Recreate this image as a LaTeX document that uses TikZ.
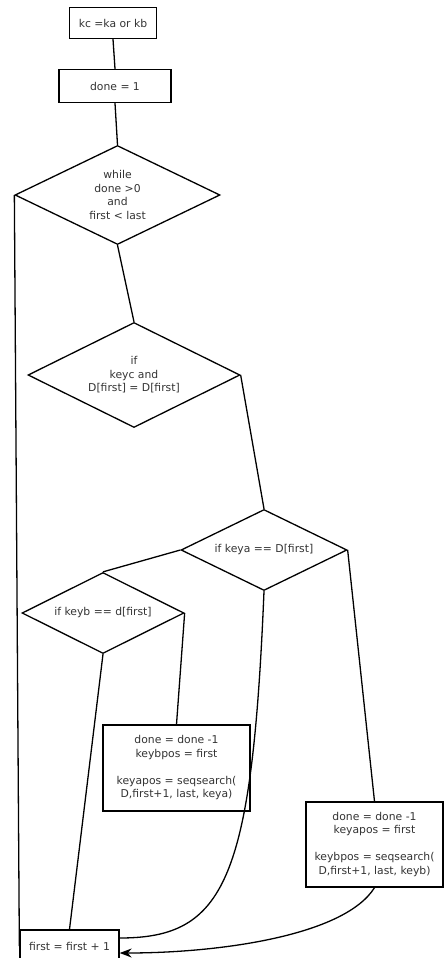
\documentclass[tikz,border=0pt]{standalone}
\usepackage{fontspec}
\setmainfont{DejaVu Sans}
\usetikzlibrary{positioning, arrows.meta, shapes.geometric}

\begin{document}
\begin{tikzpicture}[
    x=1pt, y=-1pt,
    font=\fontsize{10.8}{13.5}\selectfont,
    block/.style={rectangle, draw, line width=1.3pt, inner sep=0pt,
    align=center, text=black!80},
    decision/.style={diamond, draw, line width=1.3pt, aspect=2,
    inner sep=0pt, align=center, text=black!80},
    line/.style={line width=1.3pt},
    arrow/.style={line width=1.3pt, -{Stealth[length=12pt, width=9pt]}},
]

\useasboundingbox (0,0) rectangle (444,958);

\node[block, minimum width=87pt, minimum height=31pt] (init) at (113,23) {kc =ka or kb};
\node[block, minimum width=112pt, minimum height=33pt] (setdone) at (115,86) {done = 1};
\node[decision, minimum width=205pt, minimum height=99pt] (loop) at (117.5,195)
    {while\\done >0\\and\\first < last};
\node[decision, minimum width=212pt, minimum height=105pt] (ifkeyc) at (134,375)
    {if\\keyc and\\D[first] = D[first]};
\node[decision, minimum width=166pt, minimum height=81pt] (ifkeya) at (264,550)
    {if keya == D[first]};
\node[decision, minimum width=162pt, minimum height=81pt] (ifkeyb) at (103,613)
    {if keyb == d[first]};
\node[block, minimum width=147pt, minimum height=86pt] (gotb) at (176.5,768)
    {done = done -1\\keybpos = first\\[13.5pt]keyapos = seqsearch(\\D,first+1, last, keya)};
\node[block, minimum width=137pt, minimum height=85pt] (gota) at (374.5,844.5)
    {done = done -1\\keyapos = first\\[13.5pt]keybpos = seqsearch(\\D,first+1, last, keyb)};
\node[block, minimum width=99pt, minimum height=32pt] (next) at (69.5,946) {first = first + 1};

\draw[line] (init.south) -- (setdone.north);
\draw[line] (setdone.south) -- (loop.north);
\draw[line] (loop.south) -- (ifkeyc.north);
\draw[line] (ifkeyc.east) -- (ifkeya.north);
\draw[line] (ifkeya.west) -- (ifkeyb.north);
\draw[line] (ifkeyb.east) -- (gotb.north);
\draw[line] (ifkeya.east) -- (gota.north);
\draw[line] (loop.west) -- (next.west);
\draw[line] (ifkeyb.south) -- (next.north);
\draw[line] (ifkeya.south) .. controls +(-12,290) and +(105,0) .. ([yshift=8pt]next.east);
\draw[arrow] (gota.south) .. controls +(-30,48) and +(100,0) .. ([yshift=-7pt]next.east);

\end{tikzpicture}
\end{document}
